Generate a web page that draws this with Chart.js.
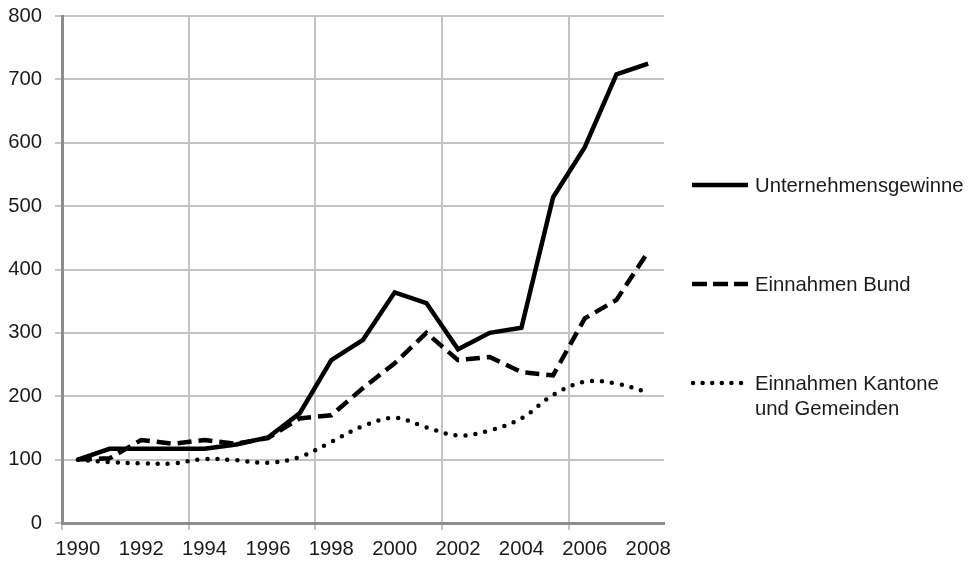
<!DOCTYPE html>
<html>
<head>
<meta charset="utf-8">
<script src="https://cdn.jsdelivr.net/npm/chart.js@4/dist/chart.umd.min.js"></script>
<style>
  html, body { margin: 0; padding: 0; background: #fff; }
  #wrap { position: relative; width: 969px; height: 569px; }
  #legend { position: absolute; left: 0; top: 0; width: 969px; height: 569px; font-family: "Liberation Sans", Arial, sans-serif; font-size: 20.3px; color: #1a1a1a; }
  .item { position: absolute; left: 690px; display: flex; align-items: flex-start; line-height: 25px; white-space: nowrap; }
  .item svg { margin-top: 7px; margin-right: 5px; flex: none; }
</style>
</head>
<body>
<div id="wrap">
  <canvas id="chart" width="969" height="569"></canvas>
  <div id="legend"></div>
</div>
<script>
const years = ['1990', '1991', '1992', '1993', '1994', '1995', '1996', '1997', '1998', '1999',
               '2000', '2001', '2002', '2003', '2004', '2005', '2006', '2007', '2008'];

const gewinne  = [100, 117, 117, 117, 117, 124, 135, 173, 257, 289, 364, 347, 274, 300, 308, 514, 593, 708, 725];
const bund     = [100, 102, 131, 125, 131, 125, 134, 165, 170, 213, 252, 300, 257, 262, 238, 233, 323, 352, 428];
const kantone  = [100, 96, 94, 94, 101, 99, 95, 104, 128, 153, 166, 151, 138, 146, 165, 202, 223, 220, 206];

const yTicks = [0, 100, 200, 300, 400, 500, 600, 700, 800];

const seriesNames = ['Unternehmensgewinne', 'Einnahmen Bund', ['Einnahmen Kantone', 'und Gemeinden']];

const gridColor = '#c4c4c4';
const axisColor = '#8c8c8c';
const textColor = '#1a1a1a';
const font = { family: '"Liberation Sans", Arial, sans-serif', size: 20.3 };

const ctx = document.getElementById('chart').getContext('2d');

new Chart(ctx, {
  type: 'line',
  data: {
    labels: years,
    datasets: [
      {
        label: 'Unternehmensgewinne',
        data: gewinne,
        borderColor: '#000',
        borderWidth: 4.5,
        pointRadius: 0,
        tension: 0,
        borderJoinStyle: 'miter'
      },
      {
        label: 'Einnahmen Bund',
        data: bund,
        borderColor: '#000',
        borderWidth: 4.5,
        borderDash: [14, 7],
        pointRadius: 0,
        tension: 0
      },
      {
        label: 'Einnahmen Kantone und Gemeinden',
        data: kantone,
        borderColor: '#000',
        borderWidth: 4.5,
        borderDash: [0, 10],
        borderCapStyle: 'round',
        pointRadius: 0,
        tension: 0.35
      }
    ]
  },
  options: {
    responsive: false,
    animation: false,
    layout: { padding: { top: 16, right: 305, bottom: 0, left: 0 } },
    plugins: {
      legend: { display: false },
      tooltip: { enabled: false }
    },
    scales: {
      x: {
        offset: true,
        afterFit: (s) => { s.height = 46; s.paddingLeft = 0; s.paddingRight = 0; },
        grid: {
          offset: true,
          lineWidth: 2,
          tickLength: 7,
          color: (c) => (c.index % 4 === 0 || c.index === years.length) ? gridColor : 'rgba(0,0,0,0)',
          tickColor: (c) => (c.index % 4 === 0 && c.index < years.length) ? gridColor : 'rgba(0,0,0,0)'
        },
        border: { color: axisColor, width: 3 },
        ticks: {
          autoSkip: false,
          maxRotation: 0,
          padding: 7,
          color: textColor,
          font,
          callback: (v, i) => (i % 2 === 0 ? years[i] : '')
        }
      },
      y: {
        min: 0,
        max: 800,
        afterFit: (s) => { s.width = 62; s.paddingTop = 0; s.paddingBottom = 0; },
        afterBuildTicks: (s) => { s.ticks = yTicks.map(v => ({ value: v })); },
        grid: { color: gridColor, lineWidth: 2, tickLength: 7 },
        border: { color: axisColor, width: 3 },
        ticks: { padding: 13, color: textColor, font }
      }
    }
  }
});

// legend on the right
const legendTops = [185, 284, 383];
const dashes = [null, '15 6', '0 9.6'];
const legend = document.getElementById('legend');
seriesNames.forEach((name, i) => {
  const item = document.createElement('div');
  item.className = 'item';
  item.style.top = (legendTops[i] - 12.5) + 'px';
  const dash = dashes[i] ? ` stroke-dasharray="${dashes[i]}"` : '';
  const cap = i === 2 ? 'round' : 'butt';
  item.innerHTML =
    `<svg width="60" height="10"><line x1="${i === 2 ? 3 : 2}" y1="5" x2="58" y2="5" stroke="#000" stroke-width="4.5" stroke-linecap="${cap}"${dash}/></svg>` +
    `<div>${Array.isArray(name) ? name.join('<br>') : name}</div>`;
  legend.appendChild(item);
});
</script>
</body>
</html>
